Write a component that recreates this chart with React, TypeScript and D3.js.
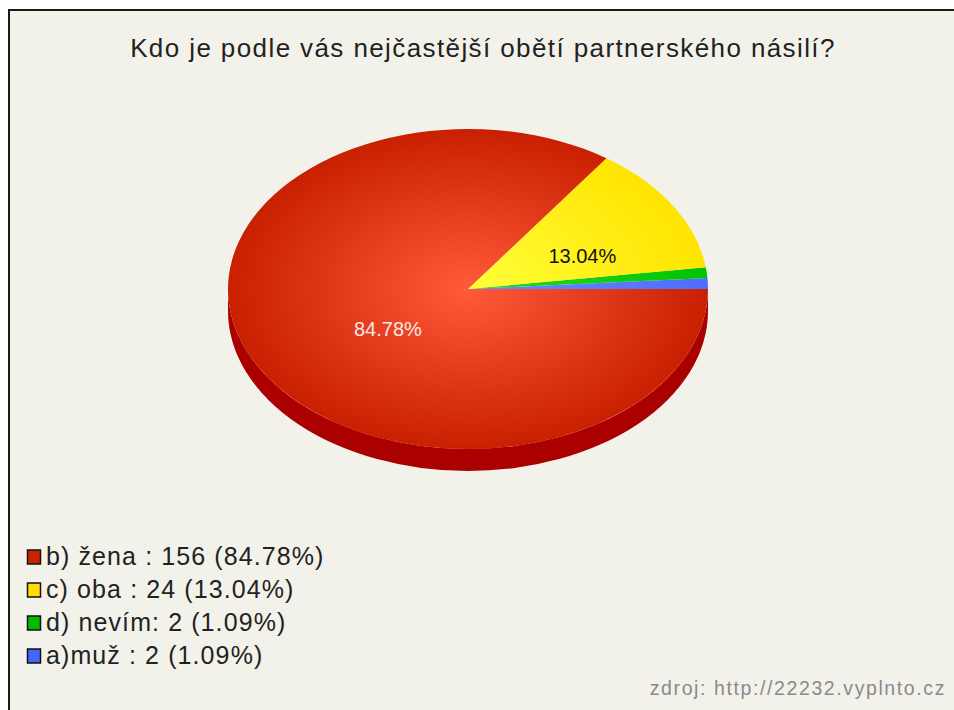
import React from "react";
import * as d3 from "d3";

// legend order, as in the reference
const categories = ["b) žena", "c) oba", "d) nevím", "a)muž"];
const legendSeparators = [" : ", " : ", ": ", " : "];
const counts = [156, 24, 2, 2];
const percents = ["84.78%", "13.04%", "1.09%", "1.09%"];
const showInPie = [true, true, false, false];
const baseColors = ["#c82000", "#ffe400", "#00c400", "#4f6dff"];
const lightColors = ["#ff5a3a", "#ffff3a", "#2ad82a", "#6a88ff"];
const swatchColors = ["#cc2200", "#ffdd00", "#00bb00", "#4466ff"];

const title = "Kdo je podle vás nejčastější obětí partnerského násilí?";
const source = "zdroj: http://22232.vyplnto.cz";

const W = 954;
const H = 710;
const FONT = "'Liberation Sans', Arial, sans-serif";

export default function App() {
  const cx = 468;
  const cy = 289;
  const rx = 240;
  const ry = 160;
  const depth = 22;

  // slices run counter-clockwise from 3 o'clock, last legend item first
  const order = d3.range(counts.length).reverse();
  const pie = d3.pie<number>().sort(null).value((i) => counts[i]);
  const slices = pie(order).map((s) => ({
    idx: s.data,
    t0: s.startAngle, // ccw from 3 o'clock
    t1: s.endAngle,
  }));

  const arc = d3.arc<any>().innerRadius(0).outerRadius(rx);
  const pt = (t: number, dy = 0) => [cx + rx * Math.cos(t), cy - ry * Math.sin(t) + dy];

  const sidePath = (a: number, b: number) => {
    const [x0, y0] = pt(a);
    const [x1, y1] = pt(b);
    return `M${x0},${y0}A${rx},${ry} 0 0 0 ${x1},${y1}L${x1},${y1 + depth}A${rx},${ry} 0 0 1 ${x0},${y0 + depth}Z`;
  };

  const sides = slices
    .map((s) => {
      const a = Math.max(s.t0, Math.PI);
      const b = Math.min(s.t1, 2 * Math.PI);
      return b > a ? { idx: s.idx, d: sidePath(a, b) } : null;
    })
    .filter(Boolean) as { idx: number; d: string }[];

  // label anchor (as placed by the original renderer)
  const labelCx = cx + 19;
  const labelCy = cy + 6;
  const labelF = 0.465;

  return (
    <svg width={W} height={H} style={{ position: "absolute", left: 0, top: 0 }}>
      <defs>
        {slices.map((s) => (
          <radialGradient
            key={s.idx}
            id={`g${s.idx}`}
            gradientUnits="userSpaceOnUse"
            cx={0}
            cy={0}
            r={rx}
          >
            <stop offset="0%" stopColor={lightColors[s.idx]} />
            <stop offset="100%" stopColor={baseColors[s.idx]} />
          </radialGradient>
        ))}
      </defs>
      <rect x={0} y={0} width={W} height={H} fill="#ffffff" />
      <rect x={9} y={10} width={W + 20} height={H + 20} fill="#f3f2ea" stroke="#1a1a1a" strokeWidth={2} />

      <text
        x={483}
        y={57}
        textAnchor="middle"
        fontFamily={FONT}
        fontSize={26}
        letterSpacing={1.4}
        fill="#222"
      >
        {title}
      </text>

      {sides.map((s) => (
        <path key={s.idx} d={s.d} fill="#aa0000" />
      ))}
      <g transform={`translate(${cx},${cy}) scale(1,${ry / rx})`}>
        {slices.map((s) => (
          <path
            key={s.idx}
            d={arc({ startAngle: Math.PI / 2 - s.t1, endAngle: Math.PI / 2 - s.t0 }) as string}
            fill={`url(#g${s.idx})`}
          />
        ))}
      </g>

      {slices
        .filter((s) => showInPie[s.idx])
        .map((s) => {
          const m = (s.t0 + s.t1) / 2;
          const x = labelCx + labelF * rx * Math.cos(m);
          const y = labelCy - labelF * ry * Math.sin(m);
          return (
            <text
              key={s.idx}
              x={x}
              y={y + 7}
              textAnchor="middle"
              fontFamily={FONT}
              fontSize={20}
              fill={s.idx === 0 ? "#fbe9e4" : "#111"}
            >
              {percents[s.idx]}
            </text>
          );
        })}

      {categories.map((c, i) => (
        <g key={c} transform={`translate(0,${550 + i * 33})`}>
          <rect x={27.5} y={0} width={13} height={14} fill={swatchColors[i]} stroke="#111" strokeWidth={1.5} />
          <text x={46} y={15} fontFamily={FONT} fontSize={25} letterSpacing={1.1} fill="#222">
            {`${c}${legendSeparators[i]}${counts[i]} (${percents[i]})`}
          </text>
        </g>
      ))}

      <text
        x={946}
        y={695}
        textAnchor="end"
        fontFamily={FONT}
        fontSize={19.5}
        letterSpacing={1.6}
        fill="#8a8a8a"
      >
        {source}
      </text>
    </svg>
  );
}
